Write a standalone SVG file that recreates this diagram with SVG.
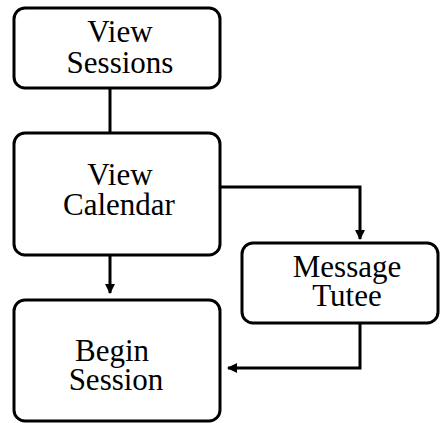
<svg xmlns="http://www.w3.org/2000/svg" width="440" height="423" viewBox="0 0 440 423">
  <defs>
    <style>
      .box { fill: #ffffff; stroke: #000000; stroke-width: 3; }
      .label { font-family: "Liberation Serif", "Times New Roman", serif; font-size: 31px; fill: #000000; text-anchor: middle; }
      .edge { fill: none; stroke: #000000; stroke-width: 3; }
    </style>
    <marker id="arrow" markerWidth="10" markerHeight="10" refX="9" refY="5" orient="auto" markerUnits="userSpaceOnUse">
      <path d="M0,0 L10,5 L0,10 Z" fill="#000000"/>
    </marker>
  </defs>
  <rect width="440" height="423" fill="#ffffff"/>

  <g id="connectors">
    <line class="edge" x1="110" y1="88" x2="110" y2="133"/>
    <line class="edge" x1="110" y1="255" x2="110" y2="293" marker-end="url(#arrow)"/>
    <polyline class="edge" points="220,187 360,187 360,239" marker-end="url(#arrow)"/>
    <polyline class="edge" points="360,323 360,368 228,368" marker-end="url(#arrow)"/>
  </g>

  <g id="view-sessions">
    <rect class="box" x="14" y="8" width="206" height="80" rx="11"/>
    <text class="label" x="120" y="42">View</text>
    <text class="label" x="120" y="73">Sessions</text>
  </g>

  <g id="view-calendar">
    <rect class="box" x="14" y="133" width="206" height="122" rx="11"/>
    <text class="label" x="120" y="185">View</text>
    <text class="label" x="119" y="215">Calendar</text>
  </g>

  <g id="message-tutee">
    <rect class="box" x="242" y="243" width="196" height="80" rx="11"/>
    <text class="label" x="347" y="277">Message</text>
    <text class="label" x="347" y="306">Tutee</text>
  </g>

  <g id="begin-session">
    <rect class="box" x="14" y="300" width="206" height="121" rx="11"/>
    <text class="label" x="112" y="361">Begin</text>
    <text class="label" x="116" y="390">Session</text>
  </g>
</svg>
